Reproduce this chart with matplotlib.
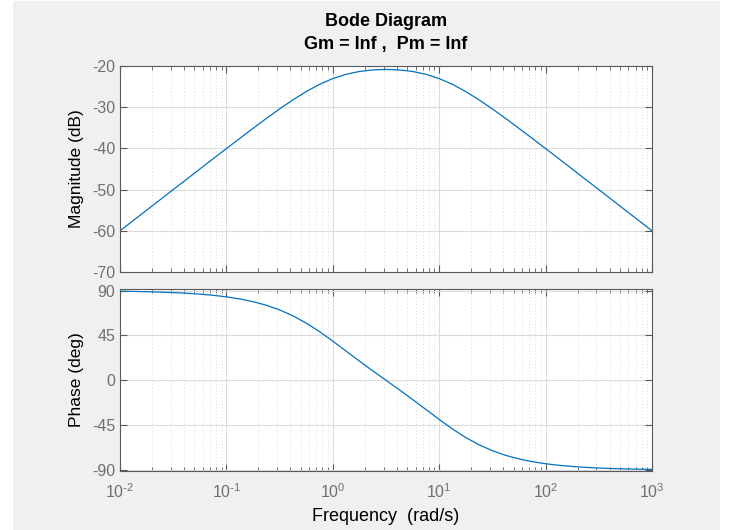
import matplotlib
matplotlib.use("Agg")
import matplotlib.pyplot as plt
from matplotlib.patches import Rectangle
from matplotlib.ticker import LogLocator, NullFormatter

plt.rcParams['font.family'] = ['Liberation Sans', 'DejaVu Sans']
plt.rcParams['mathtext.default'] = 'regular'
plt.rcParams['axes.unicode_minus'] = False

# values (1/8 decade steps)
freq = [0.01, 0.01334, 0.01778, 0.02371, 0.03162, 0.04217, 0.05623, 0.07499,
        0.1, 0.1334, 0.1778, 0.2371, 0.3162, 0.4217, 0.5623, 0.7499,
        1.0, 1.334, 1.778, 2.371, 3.162, 4.217, 5.623, 7.499,
        10.0, 13.34, 17.78, 23.71, 31.62, 42.17, 56.23, 74.99,
        100.0, 133.4, 177.8, 237.1, 316.2, 421.7, 562.3, 749.9, 1000.0]
mag_db = [-60.00, -57.50, -55.00, -52.50, -50.00, -47.51, -45.01, -42.52,
          -40.04, -37.58, -35.14, -32.74, -30.42, -28.22, -26.21, -24.46,
          -23.05, -22.01, -21.33, -20.95, -20.83, -20.95, -21.33, -22.01,
          -23.05, -24.46, -26.21, -28.22, -30.42, -32.74, -35.14, -37.58,
          -40.04, -42.52, -45.01, -47.51, -50.00, -52.50, -55.00, -57.50, -60.00]
phase_deg = [89.37, 89.16, 88.88, 88.51, 88.01, 87.34, 86.46, 85.28,
             83.72, 81.64, 78.90, 75.30, 70.64, 64.72, 57.43, 48.85,
             39.29, 29.27, 19.27, 9.53, 0.00, -9.53, -19.27, -29.27,
             -39.29, -48.85, -57.43, -64.72, -70.64, -75.30, -78.90, -81.64,
             -83.72, -85.28, -86.46, -87.34, -88.01, -88.51, -88.88, -89.16, -89.37]

mag_ticks = [-70, -60, -50, -40, -30, -20]
phase_ticks = [-90, -45, 0, 45, 90]
freq_ticks = [0.01, 0.1, 1, 10, 100, 1000]
freq_labels = [r'$10^{\text{-}2}$', r'$10^{\text{-}1}$', r'$10^{0}$',
               r'$10^{1}$', r'$10^{2}$', r'$10^{3}$']

fig = plt.figure(figsize=(7.32, 5.30), dpi=100, facecolor='white')
fig.patches.append(Rectangle((13 / 732, 0), 707 / 732, 529 / 530,
                             transform=fig.transFigure, facecolor='#f0f0f0',
                             edgecolor='none', zorder=-10))

ax1 = fig.add_axes([120 / 732, 1 - 272 / 530, 532 / 732, 206 / 530])
ax2 = fig.add_axes([120 / 732, 1 - 471 / 530, 532 / 732, 182 / 530])

blue = '#0072BD'
ax1.semilogx(freq, mag_db, color=blue, lw=0.9)
ax2.semilogx(freq, phase_deg, color=blue, lw=0.9)

ax1.set_ylim(-70, -20)
ax1.set_yticks(mag_ticks)
ax2.set_ylim(-91, 91.6)
ax2.set_yticks(phase_ticks)

for ax in (ax1, ax2):
    ax.set_xlim(0.01, 1000)
    ax.set_facecolor('white')
    ax.set_xticks(freq_ticks, freq_labels)
    ax.xaxis.set_minor_locator(LogLocator(base=10, subs=range(2, 10), numticks=10))
    ax.xaxis.set_minor_formatter(NullFormatter())
    ax.tick_params(which='both', direction='in', top=True, right=True,
                   colors='#5a5a5a', labelcolor='#707070', labelsize=11.5)
    ax.tick_params(which='major', length=5)
    ax.tick_params(which='minor', length=3)
    ax.tick_params(axis='x', which='major', pad=8)
    ax.grid(True, which='major', color='#dcdcdc', lw=0.8, ls='-')
    ax.grid(True, which='minor', axis='x', color='#d0d0d0', lw=0.6, ls=(0, (1, 3)))
    for s in ax.spines.values():
        s.set_color('#5a5a5a')
        s.set_linewidth(0.8)
    ax.set_axisbelow(True)

ax1.tick_params(labelbottom=False)
ax1.set_ylabel('Magnitude (dB)', fontsize=12.5, color='black')
ax2.set_ylabel('Phase (deg)', fontsize=12.5, color='black')
ax1.yaxis.set_label_coords(-0.068, 0.5)
ax2.yaxis.set_label_coords(-0.068, 0.5)
ax2.set_xlabel('Frequency  (rad/s)', fontsize=13, color='black')
ax2.xaxis.set_label_coords(0.5, -(508 - 471) / 182)

fig.text(386 / 732, 1 - 22 / 530, 'Bode Diagram', ha='center', va='center',
         fontsize=13, fontweight='bold')
fig.text(386 / 732, 1 - 45 / 530, 'Gm = Inf ,  Pm = Inf', ha='center', va='center',
         fontsize=13, fontweight='bold')

fig.savefig('out.png', dpi=100, facecolor=fig.get_facecolor())
